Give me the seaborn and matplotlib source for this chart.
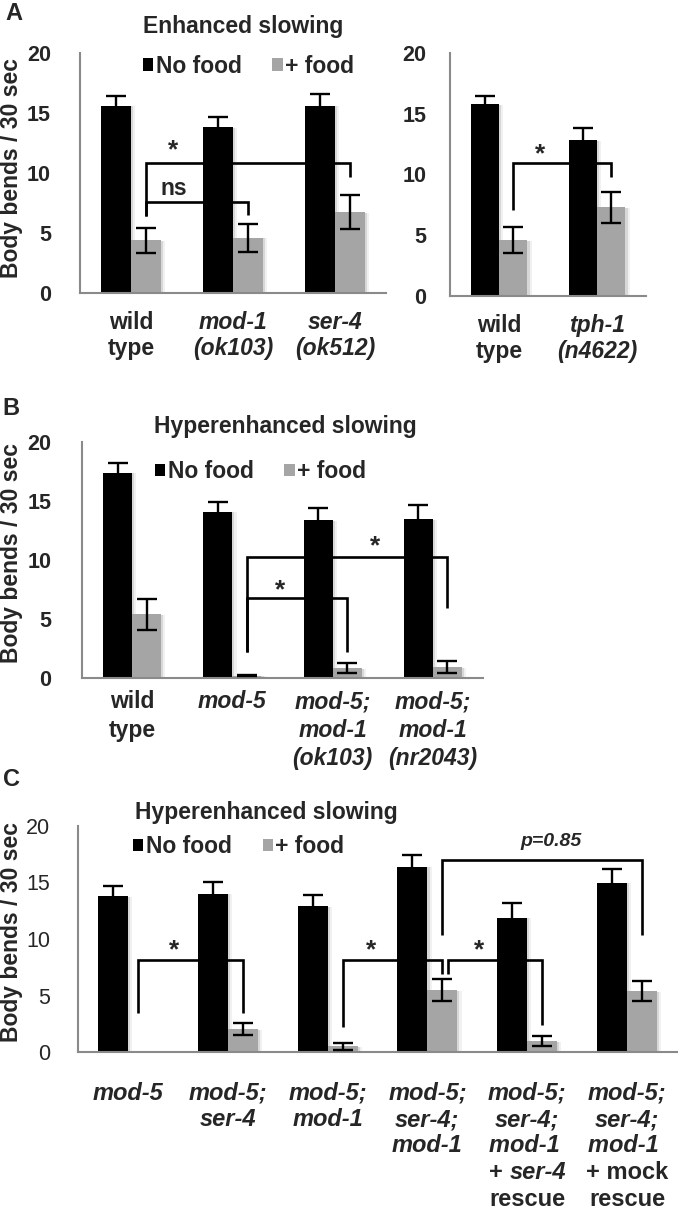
import numpy as np
import pandas as pd
import matplotlib
matplotlib.use('Agg')
import matplotlib.pyplot as plt
import matplotlib.patheffects as pe
from matplotlib.patches import Patch
from matplotlib.transforms import blended_transform_factory
import seaborn as sns

# ---- data ----
# A, left: enhanced slowing
a_strains = ['wild\ntype', 'mod-1\n(ok103)', 'ser-4\n(ok512)']
a_nofood = [15.6, 13.8, 15.6]
a_nofood_err = [0.8, 0.85, 0.95]
a_food = [4.4, 4.6, 6.75]
a_food_err = [1.05, 1.15, 1.45]

# A, right
a2_strains = ['wild\ntype', 'tph-1\n(n4622)']
a2_nofood = [15.8, 12.85]
a2_nofood_err = [0.7, 0.95]
a2_food = [4.6, 7.3]
a2_food_err = [1.05, 1.3]

# B: hyperenhanced slowing
b_strains = ['wild\ntype', 'mod-5', 'mod-5;\nmod-1\n(ok103)', 'mod-5;\nmod-1\n(nr2043)']
b_nofood = [17.4, 14.1, 13.4, 13.45]
b_nofood_err = [0.85, 0.8, 1.0, 1.2]
b_food = [5.4, 0.2, 0.85, 0.9]
b_food_err = [1.3, 0.05, 0.4, 0.5]

# C: hyperenhanced slowing, ser-4 rescue
c_strains = ['mod-5', 'mod-5;\nser-4', 'mod-5;\nmod-1', 'mod-5;\nser-4;\nmod-1',
             'mod-5;\nser-4;\nmod-1 \n+ ser-4\nrescue', 'mod-5;\nser-4;\nmod-1 \n+ mock\nrescue']
c_nofood = [13.8, 14.0, 12.9, 16.4, 11.9, 15.0]
c_nofood_err = [0.9, 1.05, 0.95, 1.0, 1.3, 1.2]
c_food = [0.0, 2.05, 0.5, 5.5, 0.95, 5.4]
c_food_err = [np.nan, 0.55, 0.3, 1.0, 0.45, 0.9]

conditions = ['No food', '+ food']

BLACK = '#000000'
GREY = '#a5a5a5'
SPINE = '#8a8a8a'
W, H = 680, 1209

sns.set_style('white')
plt.rcParams['font.family'] = ['Liberation Sans', 'DejaVu Sans']


def fx(px):
    return px / W


def fy(py):
    return 1 - py / H


def draw_bars(ax, strains, nofood, nofood_err, food, food_err, width):
    df = pd.DataFrame({
        'strain': strains * 2,
        'cond': [conditions[0]] * len(strains) + [conditions[1]] * len(strains),
        'bends': list(nofood) + list(food),
    })
    sns.barplot(data=df, x='strain', y='bends', hue='cond', order=strains,
                hue_order=conditions, palette=[BLACK, GREY], width=width,
                saturation=1, errorbar=None, legend=False, ax=ax, linewidth=0)
    # soft excel-like shadow on the right of each bar
    for b in ax.patches:
        b.set_path_effects([
            pe.SimplePatchShadow(offset=(3, -0.5), alpha=0.07, shadow_rgbFace='#444444'),
            pe.SimplePatchShadow(offset=(1.5, -0.5), alpha=0.15, shadow_rgbFace='#444444'),
            pe.Normal()])
    centers = []
    for cont, errs in zip(ax.containers, [nofood_err, food_err]):
        xs = [b.get_x() + b.get_width() / 2 for b in cont]
        ys = [b.get_height() for b in cont]
        ax.errorbar(xs, ys, yerr=errs, fmt='none', ecolor='black', elinewidth=1.7,
                    capsize=7, capthick=1.7, zorder=5)
        centers.append(xs)
    return centers


def style_axes(ax, strains, tick_pad, label_pad, bold_ticks=True, labels=True, spacing=1.2):
    n = len(strains)
    ax.set_xlim(-0.5, n - 0.5)
    ax.set_ylim(0, 20)
    ax.set_yticks([0, 5, 10, 15, 20])
    sns.despine(ax=ax)
    for s in ['left', 'bottom']:
        ax.spines[s].set_color(SPINE)
        ax.spines[s].set_linewidth(1.5)
    ax.set_xticks(np.arange(n + 1) - 0.5)
    ax.set_xticklabels([])
    ax.set_xticks(np.arange(n), labels=strains if labels else [''] * n, minor=True)
    ax.tick_params(axis='x', which='major', length=5, width=1.5, color=SPINE, direction='out')
    ax.tick_params(axis='x', which='minor', length=0, pad=label_pad, labelsize=16.5)
    ax.tick_params(axis='y', length=4, width=1.5, color=SPINE, pad=tick_pad, labelsize=15.5)
    for lbl in ax.get_yticklabels():
        lbl.set_fontweight('bold' if bold_ticks else 'normal')
    for lbl in ax.get_xticklabels(minor=True):
        lbl.set_fontweight('bold')
        lbl.set_linespacing(spacing)
        if not lbl.get_text().startswith('wild'):
            lbl.set_fontstyle('italic')
    ax.set_xlabel('')
    ax.set_ylabel('')


def bracket(ax, x0, x1, top, y0, y1):
    ax.plot([x0, x0, x1, x1], [y0, top, top, y1], color='black', lw=1.9,
            solid_joinstyle='miter', solid_capstyle='butt', clip_on=False, zorder=6)


def star(ax, x, y, s='*', size=19, style='normal'):
    ax.text(x, y, s, ha='center', va='center', fontsize=size, fontweight='bold',
            fontstyle=style, zorder=7)


def legend(ax, x, y):
    handles = [Patch(facecolor=BLACK, edgecolor='none'), Patch(facecolor=GREY, edgecolor='none')]
    ax.legend(handles=handles, labels=conditions, ncol=2, frameon=False, loc='center left',
              bbox_to_anchor=(x, y), borderpad=0, borderaxespad=0, handlelength=0.45,
              handleheight=0.45, handletextpad=0.1, columnspacing=1.35,
              prop={'weight': 'bold', 'size': 16.5})


fig = plt.figure(figsize=(W / 100, H / 100), dpi=100)

# ---------------- panel A left ----------------
axA = fig.add_axes([fx(80), fy(293), (386 - 80) / W, (293 - 53) / H])
cA = draw_bars(axA, a_strains, a_nofood, a_nofood_err, a_food, a_food_err, 0.58)
style_axes(axA, a_strains, tick_pad=17, label_pad=13, spacing=1.15)
g = cA[1]
bracket(axA, g[0], g[1], 7.6, 6.4, 6.5)
bracket(axA, g[0], g[2], 10.8, 6.4, 9.7)
star(axA, 0.41, 11.9)
axA.text(0.42, 8.7, 'ns', ha='center', va='center', fontsize=16.5, fontweight='bold')
legend(axA, 0.206, 0.945)

# ---------------- panel A right ----------------
axA2 = fig.add_axes([fx(450), fy(296), (646 - 450) / W, (296 - 53) / H])
cA2 = draw_bars(axA2, a2_strains, a2_nofood, a2_nofood_err, a2_food, a2_food_err, 0.58)
style_axes(axA2, a2_strains, tick_pad=13, label_pad=13, spacing=1.15)
g = cA2[1]
bracket(axA2, g[0], g[1], 10.95, 7.1, 9.8)
star(axA2, 0.42, 11.7)

# ---------------- panel B ----------------
axB = fig.add_axes([fx(82), fy(678), (483 - 82) / W, (678 - 442) / H])
cB = draw_bars(axB, b_strains, b_nofood, b_nofood_err, b_food, b_food_err, 0.58)
style_axes(axB, b_strains, tick_pad=18, label_pad=9, spacing=1.3)
g = cB[1]
bracket(axB, g[1], g[2], 6.8, 2.2, 2.2)
bracket(axB, g[1], g[3], 10.25, 2.2, 5.9)
star(axB, 1.475, 7.4)
star(axB, 2.42, 11.2)
legend(axB, 0.182, 0.875)

# ---------------- panel C ----------------
axC = fig.add_axes([fx(78), fy(1052), (677 - 78) / W, (1052 - 826) / H])
cC = draw_bars(axC, c_strains, c_nofood, c_nofood_err, c_food, c_food_err, 0.6)
style_axes(axC, c_strains, tick_pad=16, label_pad=0, bold_ticks=False, labels=False)
g = cC[1]
bracket(axC, g[0] - 0.05, g[1], 8.1, 3.45, 3.45)
bracket(axC, g[2], g[3], 8.1, 2.2, 6.9)
bracket(axC, g[3] + 0.06, g[4], 8.1, 6.9, 2.4)
bracket(axC, g[3], g[5], 17.0, 10.35, 10.35)
star(axC, 0.46, 9.0)
star(axC, 2.44, 9.0)
star(axC, 3.52, 9.0)
axC.text(4.24, 18.6, 'p=0.85', ha='center', va='center', fontsize=14, fontweight='bold',
         fontstyle='italic')
legend(axC, 0.092, 0.91)

# category labels of C, line by line (mixed italic / upright)
trC = blended_transform_factory(axC.transData, fig.transFigure)
for i, name in enumerate(c_strains):
    for j, line in enumerate(name.split('\n')):
        y = fy(1093 + 26.5 * j)
        if line == '+ ser-4':
            axC.text(i - 0.18, y, '+ ', ha='right', va='center', fontsize=17,
                     fontweight='bold', transform=trC)
            axC.text(i - 0.18, y, 'ser-4', ha='left', va='center', fontsize=17,
                     fontweight='bold', fontstyle='italic', transform=trC)
        else:
            style = 'normal' if line in ('+ mock', 'rescue') else 'italic'
            axC.text(i, y, line, ha='center', va='center', fontsize=17,
                     fontweight='bold', fontstyle=style, transform=trC)

# titles, axis labels, panel letters
fig.text(fx(243), fy(27), 'Enhanced slowing', ha='center', va='center', fontsize=16.5, fontweight='bold')
fig.text(fx(285), fy(427), 'Hyperenhanced slowing', ha='center', va='center', fontsize=16.5, fontweight='bold')
fig.text(fx(266), fy(813), 'Hyperenhanced slowing', ha='center', va='center', fontsize=16.5, fontweight='bold')
for xp, yp in [(12, 168), (12, 553), (12, 932)]:
    fig.text(fx(xp), fy(yp), 'Body bends / 30 sec', rotation=90, ha='center', va='center',
             fontsize=16.5, fontweight='bold')
for letter, xp, yp in [('A', 14, 14), ('B', 11, 408), ('C', 11, 779)]:
    fig.text(fx(xp), fy(yp), letter, ha='center', va='center', fontsize=17, fontweight='bold')

fig.savefig('out.png', dpi=100)
